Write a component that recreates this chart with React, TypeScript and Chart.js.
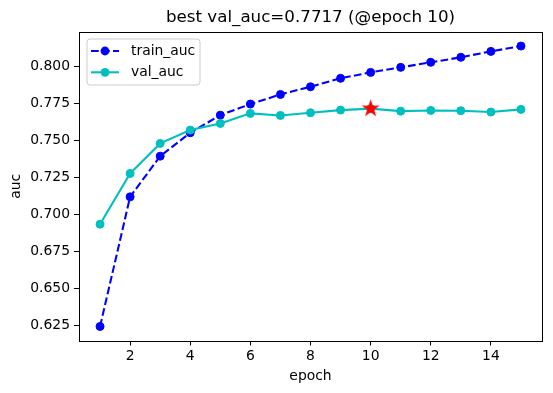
import React, { useEffect, useRef } from 'react';
import { Chart, registerables } from 'chart.js';

Chart.register(...registerables);

const epochs = [1, 2, 3, 4, 5, 6, 7, 8, 9, 10, 11, 12, 13, 14, 15];
const trainAuc = [0.6245, 0.7121, 0.7396, 0.7554, 0.7673, 0.7748, 0.7813, 0.7865, 0.7922, 0.7962, 0.7996, 0.803, 0.8064, 0.8104, 0.814];
const valAuc = [0.6936, 0.7279, 0.7482, 0.7572, 0.7617, 0.7685, 0.7671, 0.7689, 0.7707, 0.7717, 0.77, 0.7705, 0.7703, 0.7694, 0.7712];
const xTicks = [2, 4, 6, 8, 10, 12, 14];
const yTicks = [0.625, 0.65, 0.675, 0.7, 0.725, 0.75, 0.775, 0.8];
const bestEpoch = 10;
const bestVal = 0.7717;
const seriesNames = ['train_auc', 'val_auc'];
const titleText = `best val_auc=${bestVal.toFixed(4)} (@epoch ${bestEpoch})`;

const FONT = "'DejaVu Sans', sans-serif";
const TRAIN_COLOR = '#0000ff';
const VAL_COLOR = '#00bfbf';

function makeStar(outer: number, color: string): HTMLCanvasElement {
  const size = Math.ceil(outer * 2 + 2);
  const c = document.createElement('canvas');
  c.width = size;
  c.height = size;
  const ctx = c.getContext('2d')!;
  const cx = size / 2;
  const cy = size / 2;
  const inner = outer * 0.38;
  ctx.beginPath();
  for (let i = 0; i < 10; i++) {
    const r = i % 2 === 0 ? outer : inner;
    const a = -Math.PI / 2 + (i * Math.PI) / 5;
    const px = cx + r * Math.cos(a);
    const py = cy + r * Math.sin(a);
    if (i === 0) ctx.moveTo(px, py);
    else ctx.lineTo(px, py);
  }
  ctx.closePath();
  ctx.fillStyle = color;
  ctx.fill();
  return c;
}

const decorPlugin = {
  id: 'mplDecor',
  afterDraw(chart: any) {
    const { ctx, chartArea: ca } = chart;
    ctx.save();
    // axes box
    ctx.strokeStyle = '#000';
    ctx.lineWidth = 1;
    ctx.strokeRect(Math.round(ca.left) + 0.5, Math.round(ca.top) + 0.5, Math.round(ca.right - ca.left), Math.round(ca.bottom - ca.top));
    // title
    ctx.fillStyle = '#000';
    ctx.font = `16.7px ${FONT}`;
    ctx.textAlign = 'center';
    ctx.textBaseline = 'middle';
    ctx.fillText(titleText, (ca.left + ca.right) / 2, 18);
    // legend
    const lx = ca.left + 8;
    const ly = ca.top + 7;
    const lw = 113;
    const lh = 46;
    const r = 3;
    ctx.beginPath();
    ctx.moveTo(lx + r, ly);
    ctx.lineTo(lx + lw - r, ly);
    ctx.quadraticCurveTo(lx + lw, ly, lx + lw, ly + r);
    ctx.lineTo(lx + lw, ly + lh - r);
    ctx.quadraticCurveTo(lx + lw, ly + lh, lx + lw - r, ly + lh);
    ctx.lineTo(lx + r, ly + lh);
    ctx.quadraticCurveTo(lx, ly + lh, lx, ly + lh - r);
    ctx.lineTo(lx, ly + r);
    ctx.quadraticCurveTo(lx, ly, lx + r, ly);
    ctx.closePath();
    ctx.fillStyle = 'rgba(255,255,255,0.8)';
    ctx.fill();
    ctx.strokeStyle = '#cccccc';
    ctx.lineWidth = 1;
    ctx.stroke();
    const rows = [
      { name: seriesNames[0], color: TRAIN_COLOR, dash: [7.7, 3.3] },
      { name: seriesNames[1], color: VAL_COLOR, dash: [] as number[] },
    ];
    rows.forEach((row, i) => {
      const y = ly + 12 + i * 21.3;
      ctx.strokeStyle = row.color;
      ctx.lineWidth = 2.08;
      ctx.setLineDash(row.dash);
      ctx.beginPath();
      ctx.moveTo(lx + 4, y);
      ctx.lineTo(lx + 32, y);
      ctx.stroke();
      ctx.setLineDash([]);
      ctx.fillStyle = row.color;
      ctx.beginPath();
      ctx.arc(lx + 18, y, 4.4, 0, Math.PI * 2);
      ctx.fill();
      ctx.fillStyle = '#000';
      ctx.font = `13.9px ${FONT}`;
      ctx.textAlign = 'left';
      ctx.textBaseline = 'middle';
      ctx.fillText(row.name, lx + 44, y + 0.5);
    });
    ctx.restore();
  },
};

export default function App() {
  const ref = useRef<HTMLCanvasElement | null>(null);

  useEffect(() => {
    if (!ref.current) return;
    const star = makeStar(9.5, '#ff0000');
    const chart = new Chart(ref.current, {
      type: 'line',
      data: {
        datasets: [
          {
            label: 'best',
            data: [{ x: bestEpoch, y: bestVal }],
            showLine: false,
            pointStyle: star as any,
            pointRadius: 10,
            order: 0,
          },
          {
            label: seriesNames[1],
            data: epochs.map((e, i) => ({ x: e, y: valAuc[i] })),
            borderColor: VAL_COLOR,
            backgroundColor: VAL_COLOR,
            borderWidth: 2.08,
            pointRadius: 4,
            pointBorderWidth: 1,
            pointBackgroundColor: VAL_COLOR,
            pointBorderColor: VAL_COLOR,
            tension: 0,
            order: 1,
          },
          {
            label: seriesNames[0],
            data: epochs.map((e, i) => ({ x: e, y: trainAuc[i] })),
            borderColor: TRAIN_COLOR,
            backgroundColor: TRAIN_COLOR,
            borderWidth: 2.08,
            borderDash: [7.7, 3.3],
            pointRadius: 4,
            pointBorderWidth: 1,
            pointBackgroundColor: TRAIN_COLOR,
            pointBorderColor: TRAIN_COLOR,
            tension: 0,
            order: 2,
          },
        ],
      },
      options: {
        animation: false,
        responsive: true,
        maintainAspectRatio: false,
        layout: { padding: { left: 0, right: 9, top: 32, bottom: 0 } },
        plugins: {
          legend: { display: false },
          title: { display: false },
          tooltip: { enabled: false },
        },
        scales: {
          x: {
            type: 'linear',
            min: 0.3,
            max: 15.7,
            afterBuildTicks: (scale: any) => {
              scale.ticks = xTicks.map((v) => ({ value: v }));
            },
            afterFit: (scale: any) => {
              scale.height = 52.5;
            },
            grid: { display: true, drawOnChartArea: false, drawTicks: true, tickLength: 5, color: '#000', lineWidth: 1 },
            border: { display: false },
            ticks: {
              color: '#000',
              font: { family: FONT, size: 13.9 },
              padding: 3,
              maxRotation: 0,
              callback: (v: any) => String(v),
            },
            title: {
              display: true,
              text: 'epoch',
              color: '#000',
              font: { family: FONT, size: 13.9 },
              padding: { top: 0, bottom: 8 },
            },
          },
          y: {
            type: 'linear',
            min: 0.615,
            max: 0.8235,
            afterBuildTicks: (scale: any) => {
              scale.ticks = yTicks.map((v) => ({ value: v }));
            },
            afterFit: (scale: any) => {
              scale.width = 79;
            },
            grid: { display: true, drawOnChartArea: false, drawTicks: true, tickLength: 5, color: '#000', lineWidth: 1 },
            border: { display: false },
            ticks: {
              color: '#000',
              font: { family: FONT, size: 13.9 },
              padding: 4,
              callback: (v: any) => Number(v).toFixed(3),
            },
            title: {
              display: true,
              text: 'auc',
              color: '#000',
              font: { family: FONT, size: 13.9 },
              padding: { top: 8, bottom: 0 },
            },
          },
        },
      },
      plugins: [decorPlugin],
    });
    return () => chart.destroy();
  }, []);

  return (
    <div style={{ position: 'fixed', left: 0, top: 0, width: 553, height: 393, background: '#fff' }}>
      <canvas ref={ref} />
    </div>
  );
}
